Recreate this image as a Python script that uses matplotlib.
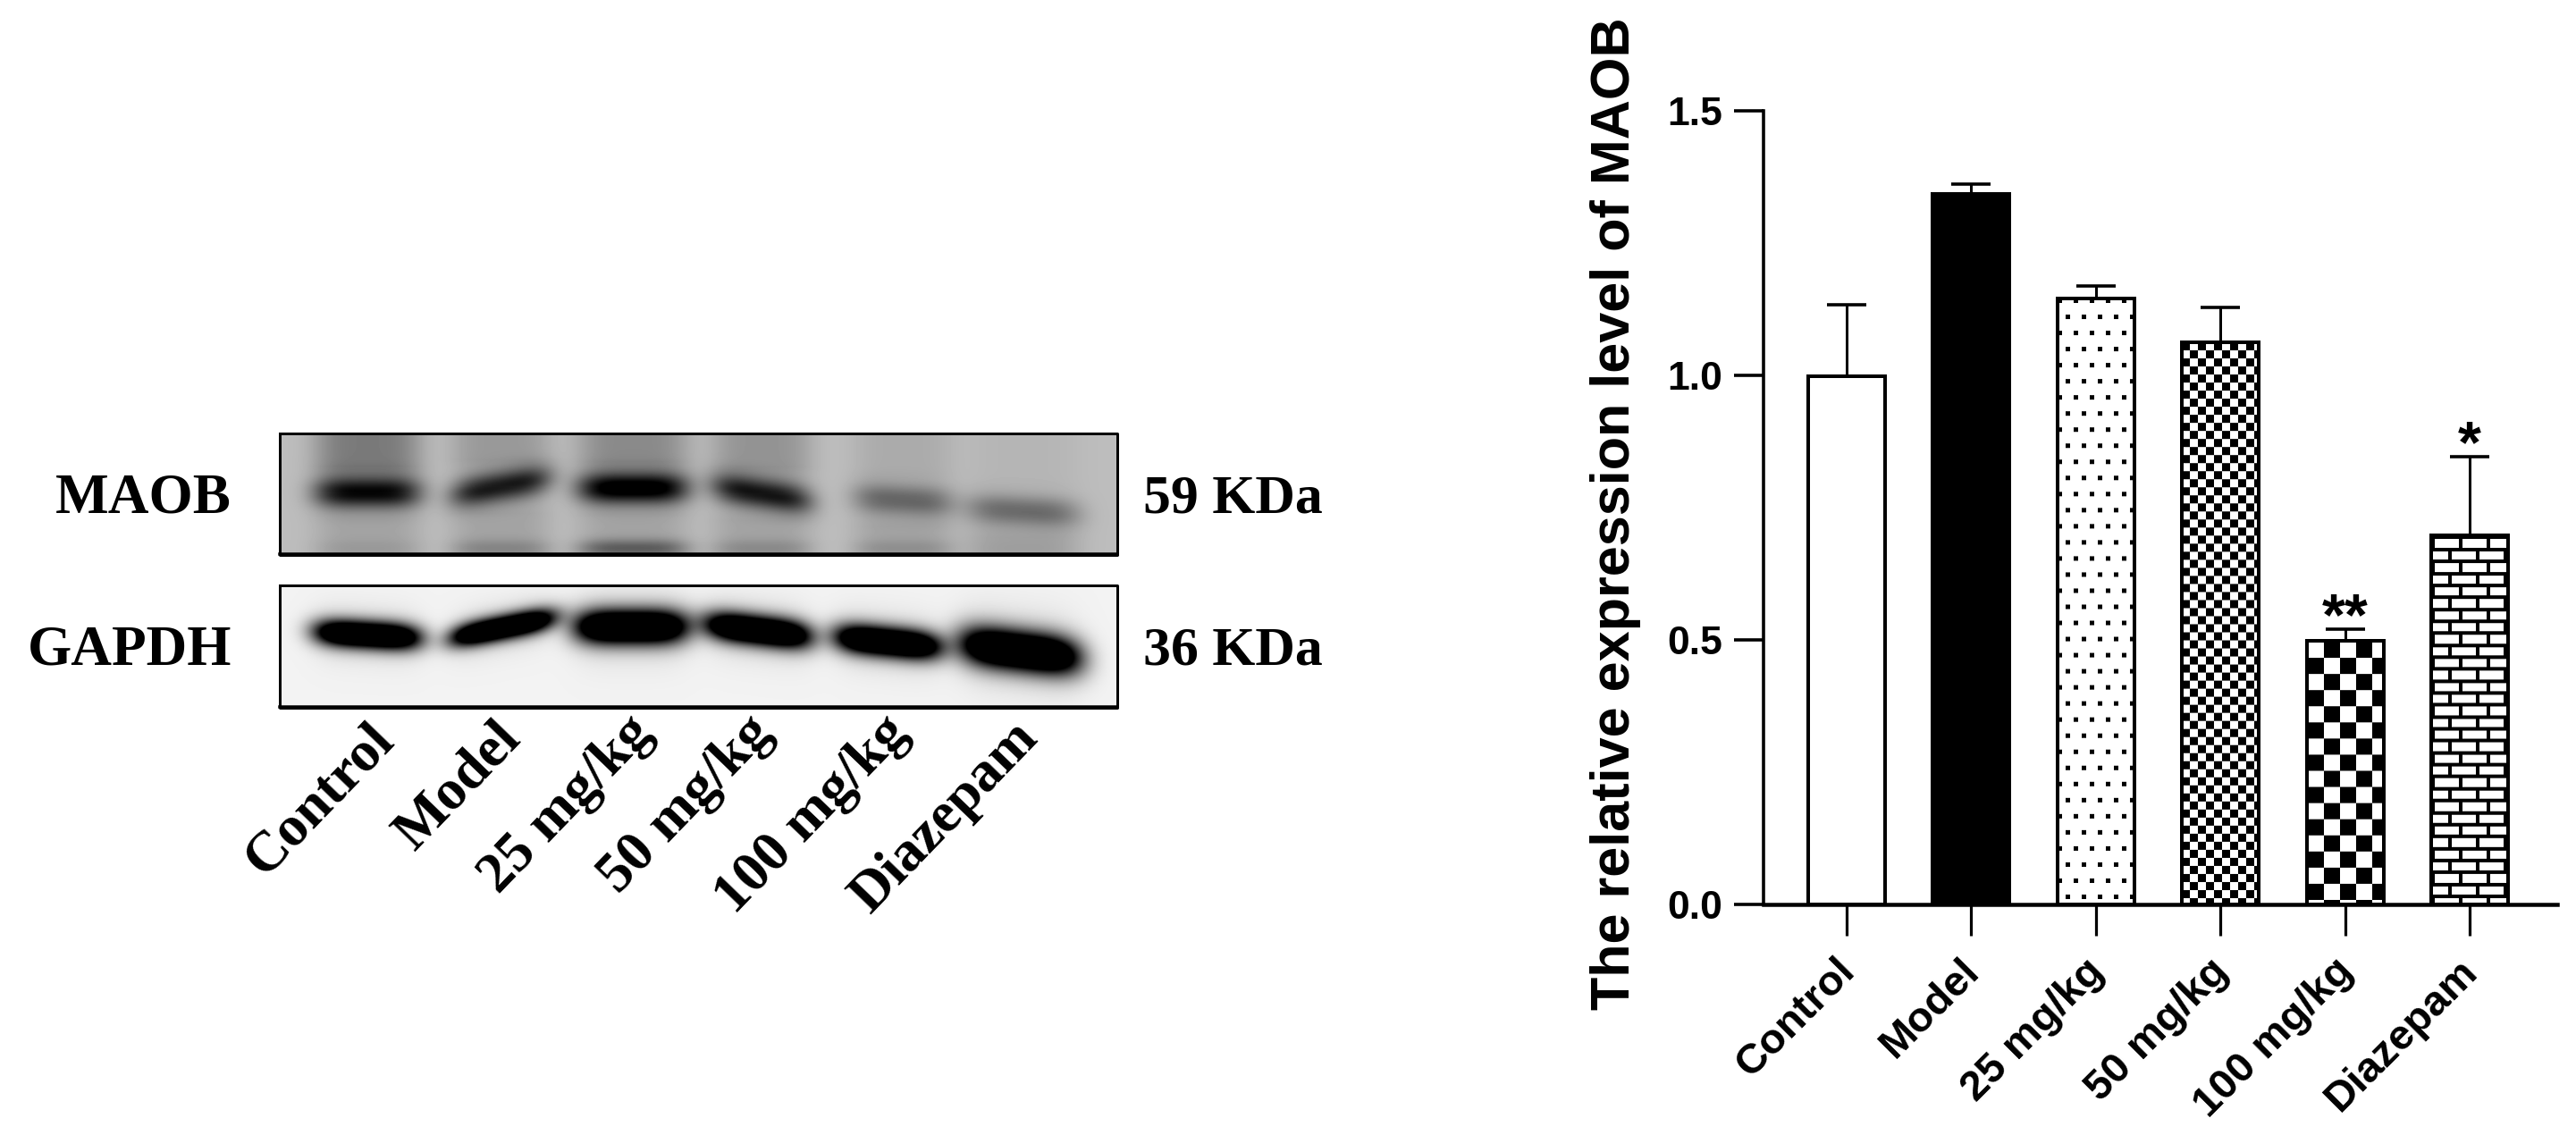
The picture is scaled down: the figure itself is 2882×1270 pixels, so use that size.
"""
Western blot panel and bar chart of MAOB expression.
"""

import matplotlib
matplotlib.use("Agg")
import matplotlib.pyplot as plt
from matplotlib.transforms import ScaledTranslation
import numpy as np

W, H = 2882, 1270
DPI = 100
PX = 72 / DPI  # one image pixel in points

groups = ["Control", "Model", "25 mg/kg", "50 mg/kg", "100 mg/kg", "Diazepam"]
means = [0.997, 1.342, 1.145, 1.062, 0.497, 0.697]
err_tops = [1.132, 1.361, 1.168, 1.128, 0.519, 0.845]
patterns = ["none", "solid", "dots", "fine", "check", "brick"]
stars = ["", "", "", "", "**", "*"]
y_ticks = [0.0, 0.5, 1.0, 1.5]

# blot bands, one entry per lane
maob_x = [411, 560, 708, 852, 1010, 1144]
maob_y = [551, 544, 546, 552, 559, 571]
maob_dark = [0.72, 0.64, 0.84, 0.66, 0.34, 0.32]
maob_width = [60, 56, 62, 56, 56, 64]
maob_slope = [0.0, -0.16, 0.0, 0.14, 0.05, 0.05]
maob_smear = [0.26, 0.14, 0.20, 0.16, 0.07, 0.03]
maob_lower = [0.04, 0.12, 0.28, 0.10, 0.08, 0.02]

gapdh_x = [411, 562, 706, 848, 993, 1141]
gapdh_y = [710, 702, 701, 705, 718, 728]
gapdh_dark = [1.0, 1.0, 1.0, 1.0, 1.0, 1.0]
gapdh_width = [60, 59, 64, 60, 60, 68]
gapdh_thick = [10, 9, 13, 11, 11, 15]
gapdh_slope = [0.06, -0.20, 0.0, 0.12, 0.10, 0.12]

label_x = [411, 553, 700, 834, 986, 1132]
label_y = [799, 797, 791, 791, 791, 797]
right_labels = ["59 KDa", "36 KDa"]


def maob_image(x0, x1, y0, y1):
    xx, yy = np.meshgrid(np.arange(x0, x1), np.arange(y0, y1))
    img = np.full(xx.shape, 0.74)
    for cx, cy, dark, hw, slope, smear, low in zip(
        maob_x, maob_y, maob_dark, maob_width, maob_slope, maob_smear, maob_lower
    ):
        across = np.exp(-(((xx - cx) / hw) ** 4))
        yc = cy + slope * (xx - cx)
        img -= dark * across * np.exp(-(((yy - yc) / 17.0) ** 2))
        img -= smear * across * np.clip((cy - yy) / 30.0, 0, 1)
        img -= 0.1 * across * np.clip((yy - cy) / 30.0, 0, 1)
        img -= low * across * np.exp(-(((yy - (y1 - 8)) / 10.0) ** 2))
    return np.clip(img, 0, 1)


def gapdh_image(x0, x1, y0, y1):
    xx, yy = np.meshgrid(np.arange(x0, x1), np.arange(y0, y1))
    img = np.full(xx.shape, 0.95)
    for cx, cy, dark, hw, th, slope in zip(
        gapdh_x, gapdh_y, gapdh_dark, gapdh_width, gapdh_thick, gapdh_slope
    ):
        across = np.exp(-(((xx - cx) / hw) ** 4))
        yc = cy + slope * (xx - cx)
        img -= 1.6 * dark * across * np.exp(-(((yy - yc) / (th * 1.5)) ** 2))
        img -= 0.12 * across * np.exp(-(((yy - yc) / (th * 3.0)) ** 2))
    return np.clip(img, 0, 1)


def pattern_image(kind, w, h):
    """Greyscale fill for a bar, one array cell per image pixel."""
    xx, yy = np.meshgrid(np.arange(w), np.arange(h))
    if kind == "dots":
        row = yy // 18
        shift = np.where(row % 2 == 0, 0, 9)
        on = ((xx + shift) % 18 < 5) & (yy % 18 < 5)
        return np.where(on, 0.0, 1.0)
    if kind == "fine":
        return np.where((xx // 9 + yy // 9) % 2 == 0, 0.0, 1.0)
    if kind == "check":
        return np.where(((xx - 1) // 18 + (yy - 1) // 18) % 2 == 0, 1.0, 0.0)
    if kind == "brick":
        row = yy // 13.35
        shift = np.where(row % 2 == 0, 0, 12)
        mortar = ((xx + shift) % 31 < 4) | (yy % 13.35 < 4)
        return np.where(mortar, 0.0, 1.0)
    return np.ones((h, w))


fig = plt.figure(figsize=(W / DPI, H / DPI), dpi=DPI, facecolor="white")

# full figure overlay in image pixels, used for the blot panel
ov = fig.add_axes([0, 0, 1, 1])
ov.set_xlim(0, W)
ov.set_ylim(H, 0)
ov.axis("off")

serif = dict(family="Liberation Serif", fontweight="bold", color="black")
boxes = [(313, 1250, 485, 621), (313, 1250, 655, 792)]
makers = [maob_image, gapdh_image]
for (x0, x1, y0, y1), maker in zip(boxes, makers):
    ov.imshow(maker(x0, x1, y0, y1), cmap="gray", vmin=0, vmax=1,
              extent=(x0, x1, y1, y0), aspect="auto", interpolation="bilinear")
    ov.plot([x0, x1, x1, x0, x0], [y0, y0, y1, y1, y0], color="black", lw=3 * PX)
    ov.plot([x0, x1], [y1 - 1, y1 - 1], color="black", lw=3.5 * PX)
ov.set_xlim(0, W)
ov.set_ylim(H, 0)

ov.text(259, 558, "MAOB", ha="right", va="center", fontsize=45.5, **serif)
ov.text(259, 729, "GAPDH", ha="right", va="center", fontsize=45.5, **serif)
ov.text(1279, 558, right_labels[0], ha="left", va="center", fontsize=44.5, **serif)
ov.text(1279, 729, right_labels[1], ha="left", va="center", fontsize=44.5, **serif)
for name, lx, ly in zip(groups, label_x, label_y):
    ov.text(lx, ly, name, rotation=46, rotation_mode="anchor", ha="right", va="top",
            fontsize=46, **serif)

# bar chart
left, right = 1972.6, 2861
top, bottom = 123.6, 1011.6
ax = fig.add_axes([left / W, 1 - bottom / H, (right - left) / W, (bottom - top) / H])
ax.patch.set_alpha(0)
step = 139.5
ax.set_xlim((left - 2065.6) / step, (right - 2065.6) / step)
ax.set_ylim(0, 1.5)

positions = np.arange(len(groups))
bar_w = 86 / step
px_per_unit = (bottom - top) / 1.5
for i, (val, kind) in enumerate(zip(means, patterns)):
    if kind not in ("none", "solid"):
        ax.imshow(pattern_image(kind, int(bar_w * step), int(val * px_per_unit)),
                  cmap="gray", vmin=0, vmax=1, aspect="auto", interpolation="bilinear",
                  extent=(i - bar_w / 2, i + bar_w / 2, 0, val), zorder=1)

bar_colors = ["black" if k == "solid" else "none" for k in patterns]
ax.bar(positions, means, width=bar_w, color=bar_colors, edgecolor="black",
       linewidth=4 * PX, zorder=2)
upper = np.array(err_tops) - np.array(means)
ax.errorbar(positions, means, yerr=[np.zeros(len(means)), upper], fmt="none",
            ecolor="black", elinewidth=3 * PX, capsize=22 * PX, capthick=3.6 * PX, zorder=3)
ax.set_xlim((left - 2065.6) / step, (right - 2065.6) / step)
ax.set_ylim(0, 1.5)

for i, (mark, tip) in enumerate(zip(stars, err_tops)):
    if mark:
        ax.annotate(mark, (i, tip), xytext=(0, -14), textcoords="offset points",
                    ha="center", va="bottom", fontsize=48, fontweight="bold",
                    family="Liberation Sans")

for side in ("top", "right"):
    ax.spines[side].set_visible(False)
ax.spines["left"].set_linewidth(3.6 * PX)
ax.spines["bottom"].set_linewidth(4.5 * PX)
ax.set_yticks(y_ticks)
ax.set_yticklabels([f"{t:.1f}" for t in y_ticks], fontsize=32,
                   fontweight="bold", family="Liberation Sans")
ax.tick_params(axis="y", length=33 * PX, width=3.6 * PX, pad=9)
ax.tick_params(axis="x", length=35 * PX, width=3.2 * PX, pad=13)
ax.set_xticks(positions)
ax.set_xticklabels(groups, rotation=45, rotation_mode="anchor", ha="right", va="top",
                   fontsize=34, fontweight="bold", family="Liberation Sans")
for lab in ax.get_xticklabels():
    lab.set_transform(lab.get_transform() + ScaledTranslation(-13 / DPI, 0, fig.dpi_scale_trans))
ax.set_ylabel("The relative expression level of MAOB", fontsize=44, fontweight="bold",
              family="Liberation Sans", va="center")
ax.yaxis.set_label_coords((1808 - left) / (right - left), (bottom - 575) / (bottom - top))

fig.savefig("out.png", dpi=DPI, facecolor="white")
